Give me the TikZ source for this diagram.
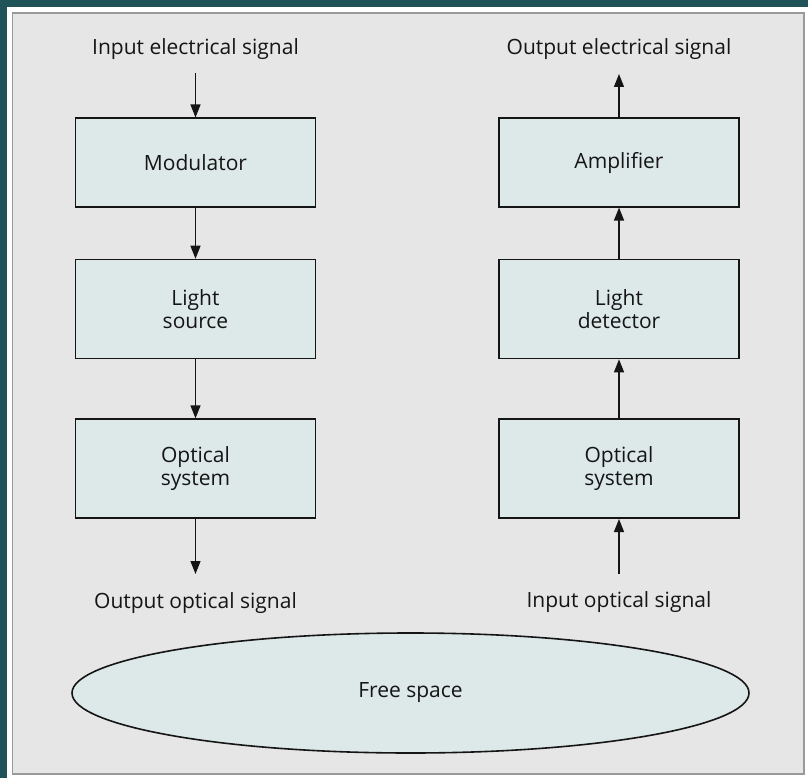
\documentclass[tikz,border=0pt]{standalone}
\usepackage{fontspec}
\setmainfont{Open Sans}
\usetikzlibrary{arrows.meta,shapes.geometric}
\definecolor{teal}{HTML}{1F5358}
\definecolor{panel}{HTML}{E6E6E6}
\definecolor{boxfill}{HTML}{DCE9E8}
\definecolor{ink}{HTML}{151515}
\tikzset{
  txt/.style={font=\fontsize{21}{22.5}\selectfont, text=ink},
  blk/.style={txt, draw=ink, line width=1.6pt, fill=boxfill, minimum width=240pt, minimum height=99pt, align=center, inner sep=0pt},
  lbl/.style={txt, inner sep=0pt},
  arr/.style={draw=ink, line width=1.3pt, -{Triangle[length=13pt,width=10pt]}},
}
\begin{document}
\begin{tikzpicture}[x=1pt,y=-1pt]
\useasboundingbox (0,0) rectangle (808,778);
\fill[teal] (0,0) rectangle (808,778);
\fill[white] (7,7) rectangle (808,778);
\draw[fill=panel, draw=gray!80, line width=1.2pt] (12.5,13) rectangle (804,774);
% left column
\node[lbl] (inE) at (195.5,49.5) {Input electrical signal};
\node[blk, minimum height=88.5pt] (mod) at (195.5,162.5) {Modulator};
\node[blk] (ls) at (195.5,309) {Light\\source};
\node[blk] (os1) at (195.5,468.7) {Optical\\system};
\node[lbl] (outO) at (195.5,603) {Output optical signal};
\coordinate (inEa) at (195.5,73);
\coordinate (outOa) at (195.5,574);
\draw[arr] (inEa) -- (mod.north);
\draw[arr] (mod.south) -- (ls.north);
\draw[arr] (ls.south) -- (os1.north);
\draw[arr] (os1.south) -- (outOa);
% right column
\node[lbl] (outE) at (619,49.5) {Output electrical signal};
\node[blk, minimum height=88.5pt] (amp) at (619,162.5) {Amplifier};
\node[blk] (ld) at (619,309) {Light\\detector};
\node[blk] (os2) at (619,468.7) {Optical\\system};
\node[lbl] (inO) at (619,602) {Input optical signal};
\coordinate (outEa) at (619,74);
\coordinate (inOa) at (619,574);
\draw[arr] (inOa) -- (os2.south);
\draw[arr] (os2.north) -- (ld.south);
\draw[arr] (ld.north) -- (amp.south);
\draw[arr] (amp.north) -- (outEa);
% free space
\node[ellipse, txt, draw=ink, line width=1.6pt, fill=boxfill, minimum width=677pt, minimum height=120pt, inner sep=0pt] (fs) at (410.5,693) {Free space};
\end{tikzpicture}
\end{document}
